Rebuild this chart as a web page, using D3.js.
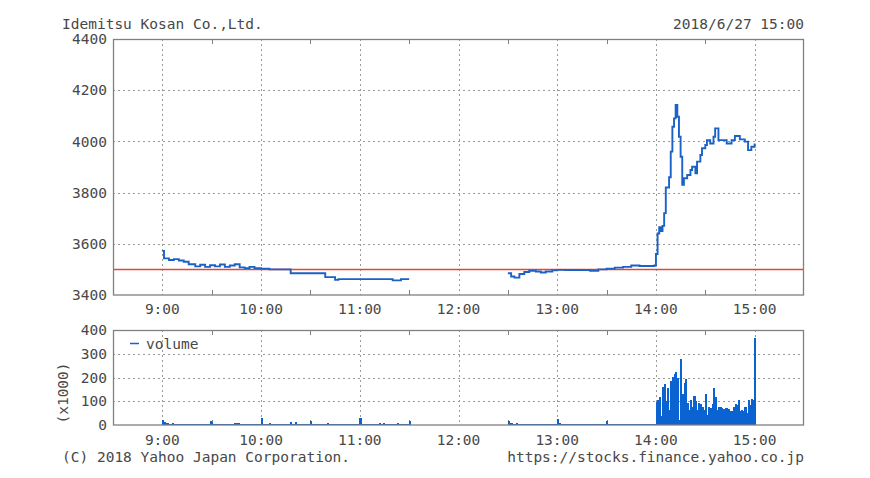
<!DOCTYPE html>
<html><head><meta charset="utf-8">
<script src="https://cdn.jsdelivr.net/npm/d3@7"></script>
<style>
html,body{margin:0;padding:0;background:#fff;}
svg text{font-family:"DejaVu Sans Mono","Liberation Mono",monospace;font-size:14.5px;fill:#484848;}
</style>
</head><body>
<svg id="chart" width="870" height="478"></svg>
<script>
// ---------- data ----------
const title = "Idemitsu Kosan Co.,Ltd.";
const stamp = "2018/6/27 15:00";
const copyright = "(C) 2018 Yahoo Japan Corporation.";
const source = "https://stocks.finance.yahoo.co.jp";
const timeTicks = ["9:00","10:00","11:00","12:00","13:00","14:00","15:00"];
const halfTicks = ["9:30","10:30","11:30","12:30","13:30","14:30"];
const priceTicks = [3400,3600,3800,4000,4200,4400];
const volumeTicks = [0,100,200,300,400];
const basePrice = 3500;

const amTimes = ["9:00","9:01","9:04","9:07","9:10","9:13","9:16","9:20","9:23","9:26","9:29","9:32","9:35","9:38","9:41","9:44","9:47","9:50","9:53","9:56","10:00","10:05","10:18","10:39","10:45","10:47","11:15","11:20","11:25","11:30"];
const amPrices = [3572,3543,3537,3540,3535,3530,3520,3512,3518,3510,3516,3512,3519,3510,3515,3520,3508,3505,3510,3505,3503,3500,3485,3470,3459,3462,3462,3457,3462,3462];

const pmTimes = ["12:30","12:32","12:34","12:37","12:40","12:43","12:47","12:50","12:53","12:57","13:00","13:05","13:20","13:25","13:30","13:35","13:40","13:45","13:50","13:59","14:00","14:01","14:02","14:03","14:04","14:05","14:06","14:08","14:09","14:10","14:11","14:12","14:13","14:14","14:15","14:16","14:17","14:19","14:21","14:22","14:24","14:25","14:27","14:28","14:30","14:31","14:33","14:35","14:36","14:38","14:40","14:43","14:46","14:48","14:51","14:54","14:56","14:58","15:00"];
const pmPrices = [3485,3472,3468,3482,3490,3495,3492,3488,3492,3496,3498,3497,3495,3500,3503,3507,3510,3515,3513,3515,3560,3640,3665,3650,3670,3720,3820,3860,3960,4057,4090,4142,4096,4018,3940,3830,3856,3869,3888,3901,3875,3921,3947,3973,3986,4005,3992,4018,4051,4005,4005,3992,4005,4021,4008,3999,3966,3979,3992];

// per-minute volume (thousands of shares)
const amVolumeStart = "9:00";
const amVolume = [21,12,10,9,6,5,8,4,3,5, 4,3,5,3,4,6,3,4,3,5, 4,3,3,5,4,3,4,6,5,18,
  12,4,3,5,4,3,4,3,5,4, 3,4,5,3,10,8,10,4,3,4, 3,5,4,3,4,3,5,4,3,6,
  28,5,4,3,4,8,3,4,5,3, 4,3,5,4,3,4,3,5,14,6, 4,12,5,3,4,3,4,5,3,4,
  16,5,4,3,4,5,3,4,3,4, 8,4,3,5,4,3,4,3,5,4, 3,4,5,3,4,3,5,4,3,4,
  28,5,4,3,4,5,3,4,3,4, 5,3,7,6,7,4,3,5,4,3, 4,5,3,9,4,3,5,4,3,6, 15];
const pmVolumeStart = "12:30";
const pmVolume = [17,7,8,6,5,7,4,6,5,4, 6,4,5,6,3,4,5,4,3,4, 5,3,4,5,4,3,4,5,3,4,
  25,8,5,4,6,3,4,5,3,4, 5,4,3,5,4,6,3,4,5,3, 4,3,5,4,3,4,5,3,4,3,
  17,5,4,3,4,5,3,4,3,5, 4,3,5,4,3,4,5,3,4,5, 3,4,5,3,4,6,3,4,5,4,
  98,105,119,40,161,171,101,154,63,187, 203,213,222,197,20,277,132,175,192,91,
  63,105,77,123,101,63,91,87,77,63, 129,42,77,72,90,154,119,63,77,77,
  72,67,70,70,67,57,57,77,87,84, 105,57,63,60,77,50,105,84,109,105, 365];

// ---------- helpers ----------
const toMin = s => { const [h,m] = s.split(":").map(Number); return h*60+m; };

const svg = d3.select("#chart");
const x = d3.scaleLinear().domain([toMin("8:30"), toMin("15:30")]).range([113, 804]);
const yP = d3.scaleLinear().domain([3400, 4400]).range([295, 39]);
const yV = d3.scaleLinear().domain([0, 400]).range([425, 330]);

const gridCol = "#9a9a9a", frameCol = "#808080";
const blue = "#1a62c6";

function panel(y, ticks, gridVals, yLab) {
  const [y0, y1] = y.range();
  const g = svg.append("g");
  g.selectAll(null).data(gridVals).join("line")
    .attr("x1", x.range()[0]).attr("x2", x.range()[1])
    .attr("y1", d => Math.round(y(d))+0.5).attr("y2", d => Math.round(y(d))+0.5)
    .attr("stroke", gridCol).attr("stroke-dasharray", "2,3");
  g.selectAll(null).data(timeTicks).join("line")
    .attr("x1", d => Math.round(x(toMin(d)))+0.5).attr("x2", d => Math.round(x(toMin(d)))+0.5)
    .attr("y1", y1).attr("y2", y0)
    .attr("stroke", gridCol).attr("stroke-dasharray", "2,3");
  g.selectAll(null).data(halfTicks).join("line")
    .attr("x1", d => Math.round(x(toMin(d)))+0.5).attr("x2", d => Math.round(x(toMin(d)))+0.5)
    .attr("y1", y1).attr("y2", y1+5).attr("stroke", frameCol);
  g.selectAll(null).data(halfTicks).join("line")
    .attr("x1", d => Math.round(x(toMin(d)))+0.5).attr("x2", d => Math.round(x(toMin(d)))+0.5)
    .attr("y1", y0).attr("y2", y0-5).attr("stroke", frameCol);
  g.selectAll(null).data(ticks).join("text")
    .attr("x", 107).attr("y", d => y(d)).attr("dy", "0.36em")
    .attr("text-anchor", "end").text(d => d);
  g.selectAll(null).data(timeTicks).join("text")
    .attr("x", d => x(toMin(d))).attr("y", yLab)
    .attr("text-anchor", "middle").text(d => d);
  return g;
}

panel(yP, priceTicks, [3600,3800,4000,4200], 314);
panel(yV, volumeTicks, [100,200,300], 445);

svg.append("line")
  .attr("x1", x.range()[0]).attr("x2", x.range()[1])
  .attr("y1", yP(basePrice)).attr("y2", yP(basePrice))
  .attr("stroke", "#e2473b").attr("stroke-width", 1.5);

const line = d3.line().curve(d3.curveStepAfter)
  .x(d => x(toMin(d[0]))).y(d => yP(d[1]));
[[amTimes, amPrices], [pmTimes, pmPrices]].forEach(([t, p]) => {
  svg.append("path").datum(t.map((d,i) => [d, p[i]]))
    .attr("d", line).attr("fill", "none")
    .attr("stroke", blue).attr("stroke-width", 1.9).attr("stroke-linejoin", "miter");
});

const pxPerMin = x(toMin("9:01")) - x(toMin("9:00"));
[[amVolumeStart, amVolume], [pmVolumeStart, pmVolume]].forEach(([s, vals]) => {
  const m0 = toMin(s);
  svg.append("g").attr("shape-rendering", "crispEdges")
    .selectAll("rect").data(vals).join("rect")
    .attr("x", (d,i) => x(m0+i) - 0.3)
    .attr("width", pxPerMin + 0.4)
    .attr("y", d => yV(d))
    .attr("height", d => yV(0) - yV(d))
    .attr("fill", "#0a63d0");
});

svg.append("rect").attr("x", 113.5).attr("y", 39.5).attr("width", 690).attr("height", 255.5)
  .attr("fill", "none").attr("stroke", frameCol).attr("stroke-width", 1.3);
svg.append("rect").attr("x", 113.5).attr("y", 330.5).attr("width", 690).attr("height", 94.5)
  .attr("fill", "none").attr("stroke", frameCol).attr("stroke-width", 1.3);

svg.append("line").attr("x1", 130).attr("x2", 139).attr("y1", 343.5).attr("y2", 343.5)
  .attr("stroke", blue).attr("stroke-width", 1.5);
svg.append("text").attr("x", 146).attr("y", 349).text("volume");

svg.append("text").attr("transform", "translate(68,393) rotate(-90)")
  .attr("text-anchor", "middle").text("(x1000)");

svg.append("text").attr("x", 62).attr("y", 29).text(title);
svg.append("text").attr("x", 804).attr("y", 29).attr("text-anchor", "end").text(stamp);
svg.append("text").attr("x", 62).attr("y", 462).text(copyright);
svg.append("text").attr("x", 804).attr("y", 462).attr("text-anchor", "end").text(source);
</script>
</body></html>
